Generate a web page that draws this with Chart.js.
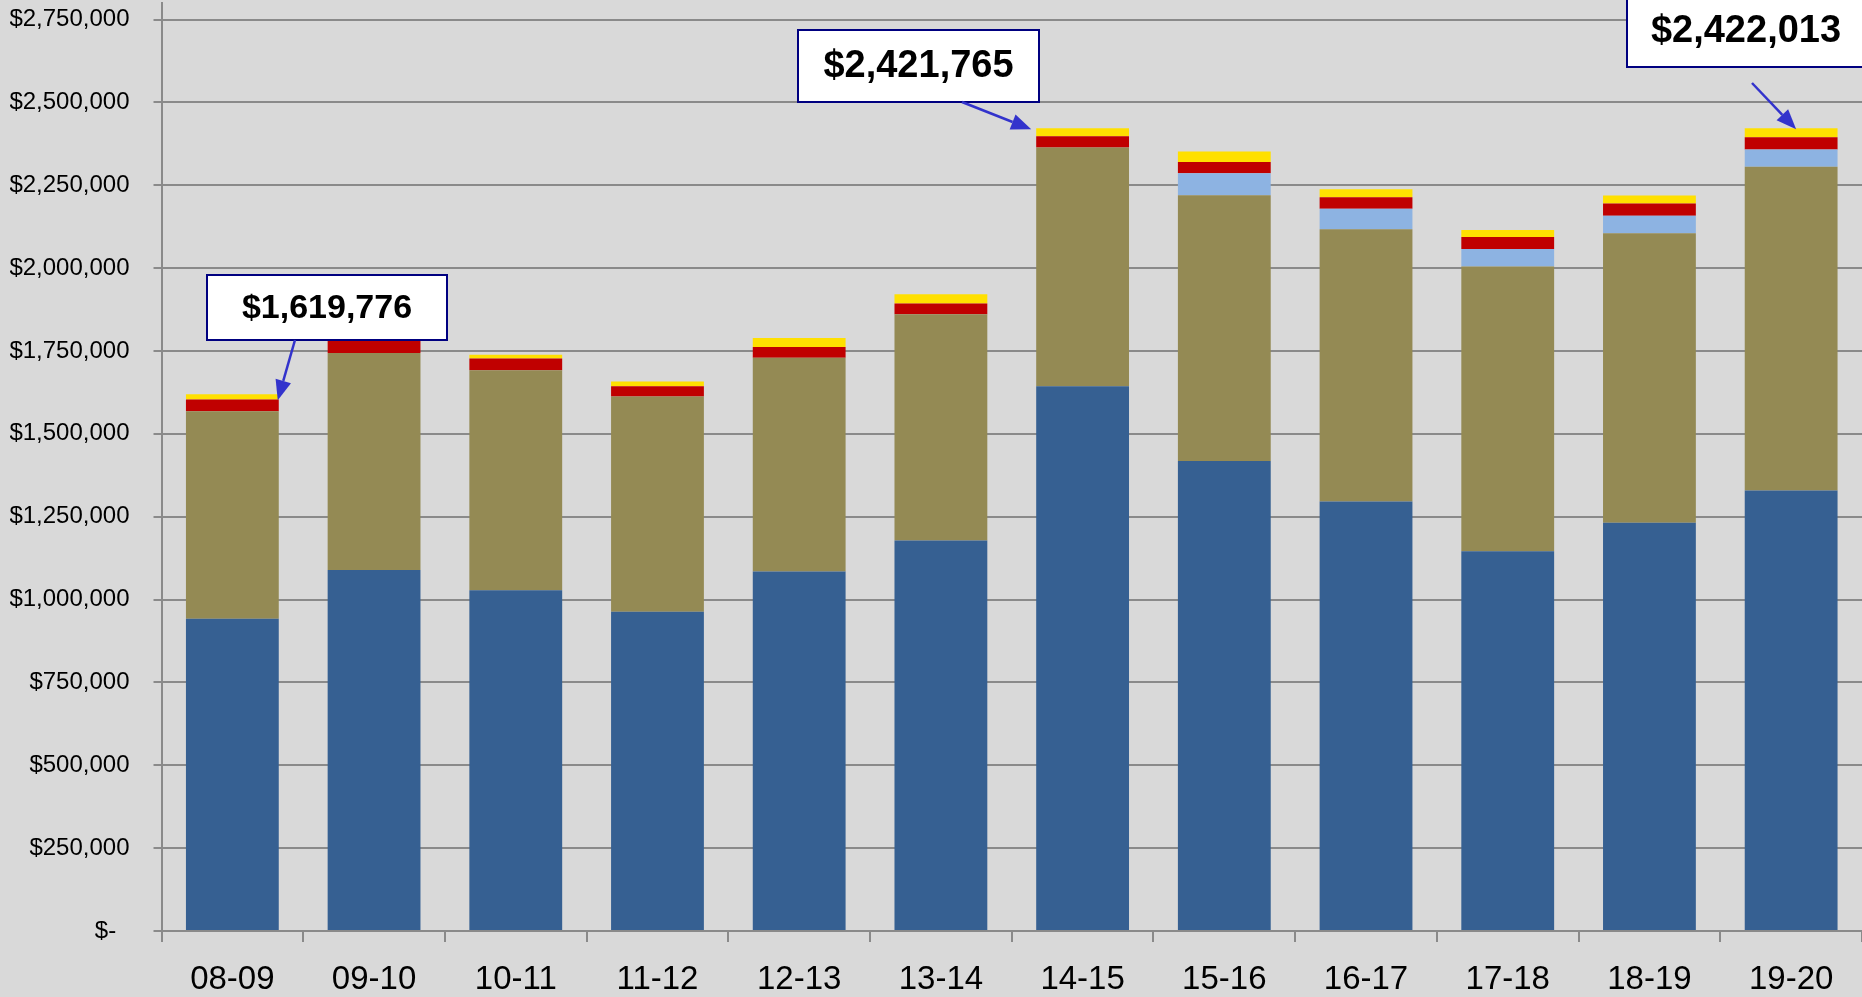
<!DOCTYPE html>
<html>
<head>
<meta charset="utf-8">
<script src="https://cdn.jsdelivr.net/npm/chart.js@4.4.1/dist/chart.umd.min.js"></script>
<style>
  body { margin: 0; background: #d9d9d9; }
  #wrap { width: 1862px; height: 997px; }
</style>
</head>
<body>
<div id="wrap"><canvas id="Budget-Chart" width="1862" height="997"></canvas></div>
<script>
const labels = ["08-09", "09-10", "10-11", "11-12", "12-13", "13-14", "14-15", "15-16", "16-17", "17-18", "18-19", "19-20"];

// stacked from the bottom up
const darkBlue  = [942000, 1089000, 1028000, 963000, 1085000, 1178000, 1644000, 1418000, 1296000, 1146000, 1232000, 1329000];
const olive     = [626000, 655000, 664000, 650000, 645000, 683000, 720000, 802000, 821000, 859000, 873000, 977000];
const lightBlue = [0, 0, 0, 0, 0, 0, 0, 66000, 62000, 53000, 53000, 52000];
const red       = [36000, 36000, 35000, 31000, 32000, 32000, 34000, 34000, 35000, 36000, 37000, 37000];
const yellow    = [15776, 20000, 12000, 14000, 27000, 28000, 23765, 32000, 24000, 21000, 24000, 27013];

const yTicks = [0, 250000, 500000, 750000, 1000000, 1250000, 1500000, 1750000, 2000000, 2250000, 2500000, 2750000];

const calloutText = ["$1,619,776", "$2,421,765", "$2,422,013"];
const calloutIndex = [0, 6, 11];

// where the boxes sit and where the arrows start (pixels)
const callouts = [
  { box: [207, 275, 240, 65], from: [295, 340], tip: "right", dx: -1, dy: 6, size: 34 },
  { box: [798, 30, 241, 72], from: [962, 102], tip: "left", dx: -5, dy: 1, size: 38 },
  { box: [1627, -6, 238, 73], from: [1752, 83], tip: "center", dx: 5, dy: 1, size: 38 }
];

const gridGray = "#8a8a8a";

const calloutPlugin = {
  id: "callouts",
  afterDatasetsDraw(chart) {
    const ctx = chart.ctx;
    const meta = chart.getDatasetMeta(chart.data.datasets.length - 1);
    callouts.forEach((c, i) => {
      const bar = meta.data[calloutIndex[i]];
      let tx = bar.x;
      if (c.tip === "right") tx = bar.x + bar.width / 2;
      if (c.tip === "left") tx = bar.x - bar.width / 2;
      tx += c.dx;
      const ty = bar.y + c.dy;

      // box
      ctx.save();
      ctx.fillStyle = "#ffffff";
      ctx.strokeStyle = "#000080";
      ctx.lineWidth = 2;
      ctx.fillRect(c.box[0], c.box[1], c.box[2], c.box[3]);
      ctx.strokeRect(c.box[0], c.box[1], c.box[2], c.box[3]);
      ctx.fillStyle = "#000000";
      ctx.font = "bold " + c.size + "px 'Liberation Sans', Arial, sans-serif";
      ctx.textAlign = "center";
      ctx.textBaseline = "middle";
      ctx.fillText(calloutText[i], c.box[0] + c.box[2] / 2, c.box[1] + c.box[3] / 2 + 1);

      // arrow
      const ang = Math.atan2(ty - c.from[1], tx - c.from[0]);
      const head = 20, half = 8;
      const bx = tx - head * Math.cos(ang), by = ty - head * Math.sin(ang);
      ctx.strokeStyle = "#3333cc";
      ctx.fillStyle = "#3333cc";
      ctx.lineWidth = 2.5;
      ctx.beginPath();
      ctx.moveTo(c.from[0], c.from[1]);
      ctx.lineTo(bx, by);
      ctx.stroke();
      ctx.beginPath();
      ctx.moveTo(tx, ty);
      ctx.lineTo(bx + half * Math.sin(ang), by - half * Math.cos(ang));
      ctx.lineTo(bx - half * Math.sin(ang), by + half * Math.cos(ang));
      ctx.closePath();
      ctx.fill();
      ctx.restore();
    });
  }
};

const data = {
  labels: labels,
  datasets: [
    { data: darkBlue, backgroundColor: "#366092" },
    { data: olive, backgroundColor: "#948a54" },
    { data: lightBlue, backgroundColor: "#8db3e2" },
    { data: red, backgroundColor: "#c00000" },
    { data: yellow, backgroundColor: "#ffe000" }
  ]
};
data.datasets.forEach(d => {
  d.barPercentage = 0.655;
  d.categoryPercentage = 1.0;
  d.borderWidth = 0;
});

const config = {
  type: "bar",
  data: data,
  plugins: [calloutPlugin],
  options: {
    responsive: false,
    animation: false,
    layout: { padding: { left: 10, top: 3, right: 0, bottom: 0 } },
    plugins: {
      legend: { display: false },
      tooltip: { enabled: false }
    },
    scales: {
      x: {
        stacked: true,
        afterFit: scale => {
          scale.height = 66;
          scale.paddingLeft = 0;
          scale.paddingRight = 0;
        },
        grid: { offset: true, drawOnChartArea: false, drawTicks: true, tickLength: 11, color: gridGray, lineWidth: 2 },
        border: { display: true, color: gridGray, width: 2 },
        ticks: {
          color: "#000000",
          padding: 21,
          maxRotation: 0,
          font: { family: "'Liberation Sans', Arial, sans-serif", size: 33, lineHeight: 1.0 }
        }
      },
      y: {
        stacked: true,
        min: 0,
        max: 2800000,
        afterBuildTicks: scale => {
          scale.ticks = yTicks.map(v => ({ value: v }));
        },
        afterFit: scale => {
          scale.width = 151.5;
          scale.paddingTop = 0;
          scale.paddingBottom = 0;
        },
        grid: { color: gridGray, lineWidth: 2, tickLength: 8 },
        border: { display: true, color: gridGray, width: 2 },
        ticks: {
          color: "#000000",
          padding: 24,
          font: { family: "'Liberation Sans', Arial, sans-serif", size: 24 },
          callback: v => v === 0 ? "$-  " : "$" + v.toLocaleString("en-US")
        }
      }
    }
  }
};

let myChart = new Chart(document.getElementById("Budget-Chart"), config);
</script>
</body>
</html>
